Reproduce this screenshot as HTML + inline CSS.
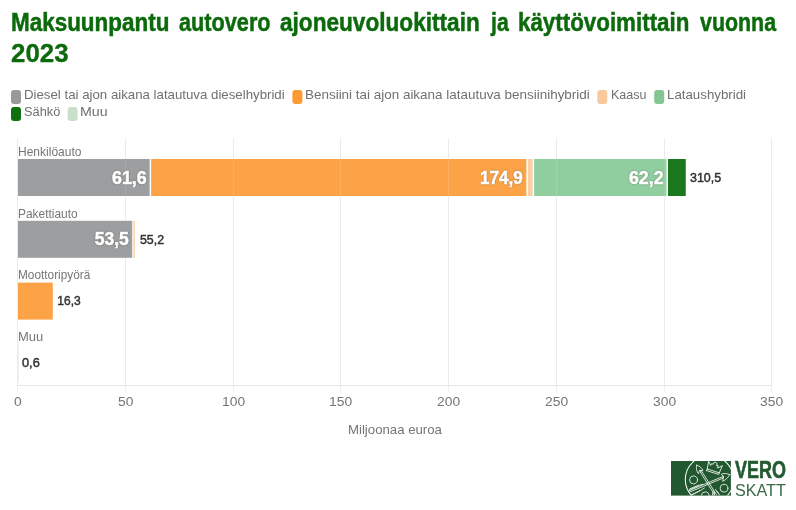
<!DOCTYPE html>
<html lang="fi">
<head>
<meta charset="utf-8">
<title>Maksuunpantu autovero ajoneuvoluokittain ja käyttövoimittain vuonna 2023</title>
<style>
html,body{margin:0;padding:0;background:#fff;}
body{width:796px;height:510px;position:relative;overflow:hidden;font-family:"Liberation Sans",sans-serif;}
.t{position:absolute;white-space:nowrap;transform-origin:0 0;line-height:1;}
svg{position:absolute;left:0;top:0;}
</style>
</head>
<body>
<svg width="796" height="510" viewBox="0 0 796 510">
<rect x="17" y="138.5" width="1" height="247" fill="#ebebeb"/>
<rect x="17" y="386" width="1" height="6.5" fill="#f0f0f0"/>
<rect x="125" y="138.5" width="1" height="247" fill="#ebebeb"/>
<rect x="125" y="386" width="1" height="6.5" fill="#f0f0f0"/>
<rect x="233" y="138.5" width="1" height="247" fill="#ebebeb"/>
<rect x="233" y="386" width="1" height="6.5" fill="#f0f0f0"/>
<rect x="340" y="138.5" width="1" height="247" fill="#ebebeb"/>
<rect x="340" y="386" width="1" height="6.5" fill="#f0f0f0"/>
<rect x="448" y="138.5" width="1" height="247" fill="#ebebeb"/>
<rect x="448" y="386" width="1" height="6.5" fill="#f0f0f0"/>
<rect x="556" y="138.5" width="1" height="247" fill="#ebebeb"/>
<rect x="556" y="386" width="1" height="6.5" fill="#f0f0f0"/>
<rect x="664" y="138.5" width="1" height="247" fill="#ebebeb"/>
<rect x="664" y="386" width="1" height="6.5" fill="#f0f0f0"/>
<rect x="771" y="138.5" width="1" height="247" fill="#ebebeb"/>
<rect x="771" y="386" width="1" height="6.5" fill="#f0f0f0"/>
<rect x="17" y="385" width="755" height="1" fill="#e6e6e6"/>
<rect x="18.00" y="159.0" width="131.64" height="37" fill="#9d9ea0"/>
<rect x="151.14" y="159.0" width="375.23" height="37" fill="#fca347"/>
<rect x="527.87" y="159.0" width="4.75" height="37" fill="#f8cfa6"/>
<rect x="534.12" y="159.0" width="132.37" height="37" fill="#90cd9f"/>
<rect x="667.99" y="159.0" width="17.78" height="37" fill="#1c781c"/>
<rect x="18.00" y="220.8" width="114.19" height="37" fill="#9d9ea0"/>
<rect x="133.69" y="220.8" width="0.76" height="37" fill="#fca347"/>
<rect x="18.00" y="282.6" width="34.81" height="37" fill="#fca347"/>
<rect x="18.00" y="344.4" width="0.30" height="37" fill="#c3d8c3"/>
<rect x="125" y="159" width="1" height="37" fill="#fff" opacity="0.12"/>
<rect x="233" y="159" width="1" height="37" fill="#fff" opacity="0.12"/>
<rect x="340" y="159" width="1" height="37" fill="#fff" opacity="0.12"/>
<rect x="448" y="159" width="1" height="37" fill="#fff" opacity="0.12"/>
<rect x="556" y="159" width="1" height="37" fill="#fff" opacity="0.12"/>
<rect x="664" y="159" width="1" height="37" fill="#fff" opacity="0.12"/>
<rect x="771" y="159" width="1" height="37" fill="#fff" opacity="0.12"/>
<rect x="11" y="90.1" width="10" height="13.8" rx="3" ry="3" fill="#999a9d"/>
<rect x="292.4" y="90.1" width="10" height="13.8" rx="3" ry="3" fill="#fd9b33"/>
<rect x="597.3" y="90.1" width="10" height="13.8" rx="3" ry="3" fill="#f7c99b"/>
<rect x="654.2" y="90.1" width="10" height="13.8" rx="3" ry="3" fill="#83c693"/>
<rect x="11" y="107.1" width="10" height="13.8" rx="3" ry="3" fill="#0e700e"/>
<rect x="67.6" y="107.1" width="10" height="13.8" rx="3" ry="3" fill="#cae0ca"/>
<g transform="translate(671,461)">
<rect x="0" y="0" width="59.9" height="34.6" fill="#22582f"/>
<clipPath id="lc"><rect x="0" y="0" width="59.9" height="34.6"/></clipPath>
<g clip-path="url(#lc)" fill="none" stroke="#f1f6f1" stroke-width="0.85" stroke-linecap="round" stroke-linejoin="round">
<circle cx="38.4" cy="18.6" r="24.1" stroke-width="1.1"/>
<circle cx="22.6" cy="18.9" r="4"/>
<circle cx="53" cy="27.2" r="3.9"/>
<circle cx="34.2" cy="34.8" r="3.9"/>
<path d="M30.8 10.5 L45.3 33.4 M29.4 11.4 L43.9 34.2"/>
<path d="M25.8 4.2 C24.8 7 25.6 10.4 27.4 12.6 L28.6 9.4 L31.9 9.7 C31 7.2 28.6 4.8 25.8 4.2 Z M28.6 9.4 L30.1 11"/>
<path d="M42.4 29.6 L41.2 34.4 M44.4 28.4 L47.6 32.4 M43.5 31.4 L42.6 35.4 M45.5 30.2 L48.8 34.2"/>
<path d="M51.2 15.8 L18.2 29.6 M51.8 17.2 L18.8 31"/>
<path d="M58.7 13.5 C55.6 12.2 52.6 12.2 50.4 13.2 L52.6 15.6 L51.7 20.3 C54.6 19.2 57.2 16.6 58.7 13.5 Z M52.6 15.6 L51.2 16.3"/>
<path d="M31.8 23.4 C28 23.8 23.4 25.6 18.6 28 M33.4 27 C30 29.2 26 31.6 21.4 33.6 M27.4 24.8 C24.6 25.9 21.6 27.3 18.4 29.2 M29 29.6 C26.2 31 23.2 32.6 20 33.9"/>
<g transform="translate(0.8,0.4) rotate(16 42 8) translate(42 6) scale(0.95) translate(-42 -6)">
<path d="M35.2 9.2 L34.4 1.4 L37.6 5 L38.4 2.6 L39.6 3.4 L40.2 1 L42 0.4 L43.6 1.2 L43.8 3.6 L45.2 3 L45.6 5.6 L49.6 1.8 L48.6 9.6 Z M35 11.4 L48.4 11.8 L48.6 9.6 M35 11.4 L35.2 9.2"/>
</g>
</g></g>
</svg>
<div class="t" style="left:11.20px;top:10.00px;font-size:25.1px;color:#0c6a0c;font-weight:bold;transform:scaleX(0.8946);-webkit-text-stroke:0.5px #0c6a0c;">Maksuunpantu</div>
<div class="t" style="left:178.56px;top:9.00px;font-size:26.2px;color:#0c6a0c;font-weight:bold;transform:scaleX(0.8283);-webkit-text-stroke:0.5px #0c6a0c;">autovero</div>
<div class="t" style="left:280.45px;top:9.00px;font-size:26.2px;color:#0c6a0c;font-weight:bold;transform:scaleX(0.8635);-webkit-text-stroke:0.5px #0c6a0c;">ajoneuvoluokittain</div>
<div class="t" style="left:490.73px;top:9.00px;font-size:26.2px;color:#0c6a0c;font-weight:bold;transform:scaleX(0.8116);-webkit-text-stroke:0.5px #0c6a0c;">ja</div>
<div class="t" style="left:518.40px;top:9.00px;font-size:26.2px;color:#0c6a0c;font-weight:bold;transform:scaleX(0.8535);-webkit-text-stroke:0.5px #0c6a0c;">käyttövoimittain</div>
<div class="t" style="left:699.80px;top:9.00px;font-size:26.2px;color:#0c6a0c;font-weight:bold;transform:scaleX(0.8165);-webkit-text-stroke:0.5px #0c6a0c;">vuonna</div>
<div class="t" style="left:11.19px;top:41.00px;font-size:25.3px;color:#0c6a0c;font-weight:bold;transform:scaleX(1.0226);-webkit-text-stroke:0.3px #0c6a0c;">2023</div>
<div class="t" style="left:23.76px;top:88.00px;font-size:13.2px;color:#707070;transform:scaleX(1.0044);">Diesel tai ajon aikana latautuva dieselhybridi</div>
<div class="t" style="left:305.25px;top:88.00px;font-size:13.2px;color:#707070;transform:scaleX(1.0195);">Bensiini tai ajon aikana latautuva bensiinihybridi</div>
<div class="t" style="left:610.52px;top:88.00px;font-size:13.2px;color:#707070;transform:scaleX(0.9508);">Kaasu</div>
<div class="t" style="left:666.96px;top:88.00px;font-size:13.2px;color:#707070;transform:scaleX(1.0076);">Lataushybridi</div>
<div class="t" style="left:24.20px;top:105.00px;font-size:13.2px;color:#707070;transform:scaleX(0.9704);">Sähkö</div>
<div class="t" style="left:80.29px;top:105.00px;font-size:13.2px;color:#707070;transform:scaleX(1.0751);">Muu</div>
<div class="t" style="left:17.85px;top:146.00px;font-size:12.6px;color:#767676;transform:scaleX(0.9549);">Henkilöauto</div>
<div class="t" style="left:17.85px;top:208.00px;font-size:12.6px;color:#767676;transform:scaleX(0.9458);">Pakettiauto</div>
<div class="t" style="left:18.26px;top:269.00px;font-size:12.6px;color:#767676;transform:scaleX(0.9385);">Moottoripyörä</div>
<div class="t" style="left:17.77px;top:331.00px;font-size:12.6px;color:#767676;transform:scaleX(1.0307);">Muu</div>
<div class="t" style="left:111.84px;top:170.00px;font-size:17.5px;color:#fff;font-weight:bold;transform:scaleX(1.0188);text-shadow:0 0 2px rgba(0,0,0,.5),0 0 1px rgba(0,0,0,.3);-webkit-text-stroke:0.55px #fff;">61,6</div>
<div class="t" style="left:479.93px;top:170.00px;font-size:17.5px;color:#fff;font-weight:bold;transform:scaleX(0.9748);text-shadow:0 0 2px rgba(0,0,0,.5),0 0 1px rgba(0,0,0,.3);-webkit-text-stroke:0.55px #fff;">174,9</div>
<div class="t" style="left:628.65px;top:170.00px;font-size:17.5px;color:#fff;font-weight:bold;transform:scaleX(1.0128);text-shadow:0 0 2px rgba(0,0,0,.5),0 0 1px rgba(0,0,0,.3);-webkit-text-stroke:0.55px #fff;">62,2</div>
<div class="t" style="left:94.73px;top:231.00px;font-size:17.5px;color:#fff;font-weight:bold;text-shadow:0 0 2px rgba(0,0,0,.5),0 0 1px rgba(0,0,0,.3);-webkit-text-stroke:0.55px #fff;">53,5</div>
<div class="t" style="left:690.23px;top:172.00px;font-size:12px;color:#333;transform:scaleX(1.0376);-webkit-text-stroke:0.45px #333;">310,5</div>
<div class="t" style="left:140.24px;top:234.00px;font-size:12px;color:#333;transform:scaleX(1.0299);-webkit-text-stroke:0.45px #333;">55,2</div>
<div class="t" style="left:57.30px;top:295.00px;font-size:12px;color:#333;-webkit-text-stroke:0.45px #333;">16,3</div>
<div class="t" style="left:22.12px;top:357.00px;font-size:12px;color:#333;transform:scaleX(1.0632);-webkit-text-stroke:0.45px #333;">0,6</div>
<div class="t" style="left:13.90px;top:395.00px;font-size:13.2px;color:#757575;transform:scaleX(1.0500);">0</div>
<div class="t" style="left:118.05px;top:395.00px;font-size:13.2px;color:#757575;transform:scaleX(1.0500);">50</div>
<div class="t" style="left:221.98px;top:395.00px;font-size:13.2px;color:#757575;transform:scaleX(1.0500);">100</div>
<div class="t" style="left:328.98px;top:395.00px;font-size:13.2px;color:#757575;transform:scaleX(1.0500);">150</div>
<div class="t" style="left:437.09px;top:395.00px;font-size:13.2px;color:#757575;transform:scaleX(1.0500);">200</div>
<div class="t" style="left:545.09px;top:395.00px;font-size:13.2px;color:#757575;transform:scaleX(1.0500);">250</div>
<div class="t" style="left:653.19px;top:395.00px;font-size:13.2px;color:#757575;transform:scaleX(1.0500);">300</div>
<div class="t" style="left:760.19px;top:395.00px;font-size:13.2px;color:#757575;transform:scaleX(1.0500);">350</div>
<div class="t" style="left:347.52px;top:424.00px;font-size:12.8px;color:#757575;transform:scaleX(1.0315);">Miljoonaa euroa</div>
<div class="t" style="left:735.10px;top:459.00px;font-size:23.6px;color:#235a31;font-weight:bold;transform:scaleX(0.7610);-webkit-text-stroke:0.6px #235a31;">VERO</div>
<div class="t" style="left:734.89px;top:482.00px;font-size:17.2px;color:#376a45;transform:scaleX(0.9396);">SKATT</div>
</body>
</html>
